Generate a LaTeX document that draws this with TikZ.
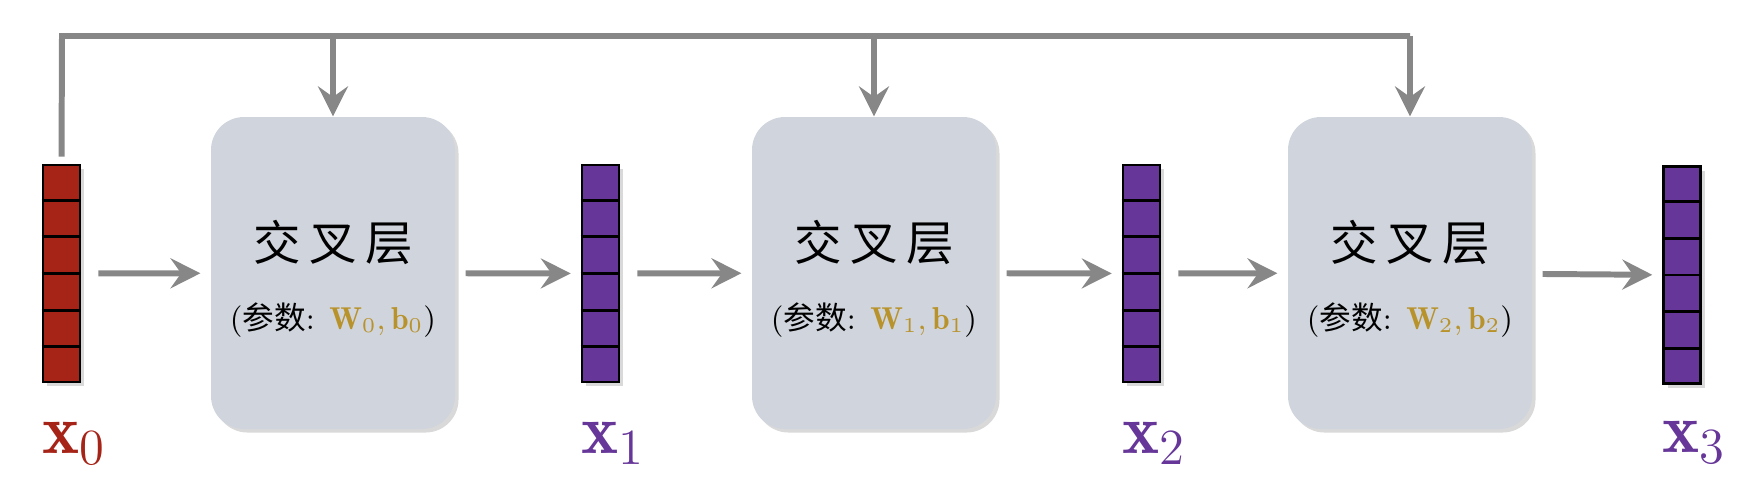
\documentclass[tikz,border=0pt]{standalone}
\usepackage{fontspec}
\newfontfamily\cjk{Noto Sans CJK SC}
\usetikzlibrary{arrows.meta,shadows,calc}
\definecolor{vecred}{RGB}{166,35,24}
\definecolor{vecpurple}{RGB}{102,54,153}
\definecolor{boxgray}{RGB}{208,212,220}
\definecolor{linkgray}{RGB}{135,135,135}
\definecolor{paramgold}{RGB}{184,146,43}
\begin{document}
\begin{tikzpicture}[
        layer/.style={rounded corners=0.33cm, fill=boxgray, minimum width=2.44cm, minimum height=3.12cm,
            drop shadow={shadow xshift=1pt, shadow yshift=-1pt, opacity=0.3}},
        vec/.style={draw=black, line width=0.8pt, minimum width=0.37cm, minimum height=2.17cm, inner sep=0pt,
            drop shadow={shadow xshift=1.2pt, shadow yshift=-1.2pt, opacity=0.3}},
        link/.style={draw=linkgray, line width=1.7pt},
        arr/.style={link, -{Stealth[length=8.5pt, width=8.5pt, inset=3pt]}, shorten >=2.8pt, shorten <=2.8pt},
        vlabel/.style={anchor=base west, inner sep=0pt, font=\fontsize{20}{24}\selectfont},
        title/.style={font=\cjk\fontsize{13.5}{15}\selectfont},
        param/.style={font=\fontsize{9}{11}\selectfont}
    ]
    \useasboundingbox (0,0) rectangle (17.57,-4.90);
    % vectors
    \node [vec, fill=vecred] (v0) at (0.615,-2.735) {};
    \node [vec, fill=vecpurple] (v1) at (6.005,-2.735) {};
    \node [vec, fill=vecpurple] (v2) at (11.415,-2.735) {};
    \node [vec, fill=vecpurple] (v3) at (16.82,-2.75) {};
    \foreach \v in {v0,v1,v2,v3}
        \foreach \k in {1,...,5}
            \draw [line width=0.8pt] ($(\v.north west)!\k/6!(\v.south west)$) -- ($(\v.north east)!\k/6!(\v.south east)$);
    \node [vlabel, text=vecred] (x0) at ($(v0.south west)+(0,-0.70)$) {$\mathbf{x}_0$};
    \node [vlabel, text=vecpurple] (x1) at ($(v1.south west)+(0,-0.70)$) {$\mathbf{x}_1$};
    \node [vlabel, text=vecpurple] (x2) at ($(v2.south west)+(0,-0.70)$) {$\mathbf{x}_2$};
    \node [vlabel, text=vecpurple] (x3) at ($(v3.south west)+(0,-0.68)$) {$\mathbf{x}_3$};
    % cross layers
    \node [layer] (c0) at (3.33,-2.73) {};
    \node [layer] (c1) at (8.74,-2.73) {};
    \node [layer] (c2) at (14.10,-2.73) {};
    \foreach \i in {0,1,2} {
        \node [title] (t\i) at ($(c\i)+(0,0.31)$) {交\hspace{2.4pt}叉\hspace{2.4pt}层};
        \node [param] (p\i) at ($(c\i)+(0,-0.47)$) {({\cjk 参数}: \textcolor{paramgold}{$\mathbf{W}_\i, \mathbf{b}_\i$})};
    }
    % flow
    \draw [arr, shorten <=4.8pt] (v0) -- (c0);
    \draw [arr] (c0) -- (v1);
    \draw [arr, shorten <=4.8pt] (v1) -- (c1);
    \draw [arr] (c1) -- (v2);
    \draw [arr, shorten <=4.8pt] (v2) -- (c2);
    \draw [arr] (c2) -- (v3);
    % x0 feeds every layer
    \coordinate (bus) at (0.62,-0.36);
    \coordinate (busend) at (14.10,-0.36);
    \draw [link, shorten <=2pt] (v0.north) -- (bus) -- (busend);
    \draw [arr, shorten >=0pt, shorten <=0pt] (c0.north |- bus) -- (c0.north);
    \draw [arr, shorten >=0pt, shorten <=0pt] (c1.north |- bus) -- (c1.north);
    \draw [arr, shorten >=0pt, shorten <=0pt] (busend) -- (c2.north);
\end{tikzpicture}
\end{document}
